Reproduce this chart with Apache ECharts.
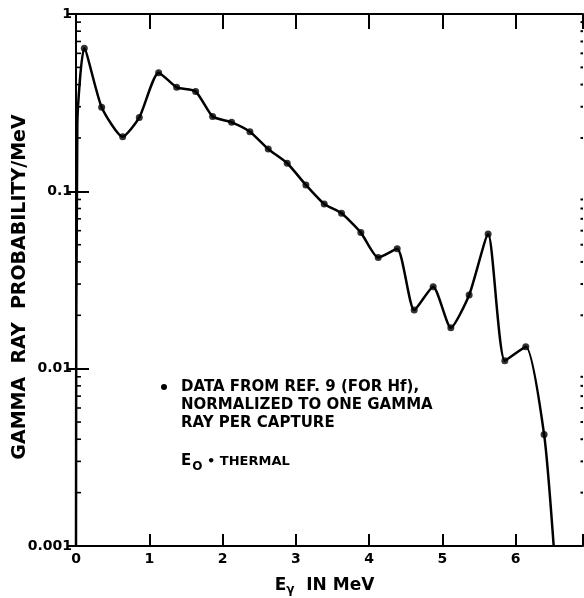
<!DOCTYPE html>
<html>
<head>
<meta charset="utf-8">
<script src="https://cdn.jsdelivr.net/npm/echarts@6/dist/echarts.min.js"></script>
<style>html,body{margin:0;padding:0;background:#fff}#c{width:584px;height:598px}</style>
</head>
<body>
<div id="c"></div>
<script>
// Marked data points (E in MeV, probability per MeV)
var energies = [0.113, 0.35, 0.637, 0.864, 1.128, 1.374, 1.633, 1.865, 2.124, 2.374, 2.624, 2.883,
  3.138, 3.388, 3.624, 3.888, 4.125, 4.384, 4.616, 4.875, 5.116, 5.366, 5.625, 5.853, 6.139, 6.389];
var probs = [0.641, 0.298, 0.203, 0.261, 0.467, 0.386, 0.366, 0.264, 0.245, 0.217, 0.173, 0.144,
  0.1086, 0.0848, 0.0752, 0.0585, 0.0423, 0.0475, 0.0214, 0.029, 0.017, 0.026, 0.0574, 0.0111, 0.0133, 0.00426];
// Unmarked ends of the drawn curve
var curveStartX = [0.0, 0.018];
var curveStartY = [0.001, 0.24];
var curveEndX = [6.52];
var curveEndY = [0.001];
var xTicks = [0, 1, 2, 3, 4, 5, 6];
var yTickLabels = {'1': '1', '0.1': '0.1', '0.01': '0.01', '0.001': '0.001'};
var decades = [0.001, 0.01, 0.1];
var minorMultipliers = [2, 3, 4, 5, 6, 7, 8, 9];

var XMAX = 6.92;
var curve = [];
curveStartX.forEach(function (x, i) { curve.push([x, curveStartY[i]]); });
energies.forEach(function (x, i) { curve.push([x, probs[i]]); });
curveEndX.forEach(function (x, i) { curve.push([x, curveEndY[i]]); });
var pts = energies.map(function (x, i) { return [x, probs[i]]; });
var minorTicks = [];
decades.forEach(function (d) {
  minorMultipliers.forEach(function (m) {
    var v = +(m * d).toPrecision(3);
    minorTicks.push([0, v]);
    minorTicks.push([XMAX, v]);
  });
});

var FONT = 'DejaVu Sans';
var chart = echarts.init(document.getElementById('c'), null, {renderer: 'canvas'});
chart.setOption({
  backgroundColor: '#fff',
  animation: false,
  grid: {left: 76, right: 1, top: 14, bottom: 52, containLabel: false, outerBoundsMode: 'none'},
  xAxis: [{
    type: 'value', min: 0, max: XMAX, interval: 1,
    name: '{e|E}{g|γ}{t|  IN MeV}', nameLocation: 'middle', nameGap: 30, nameMoveOverlap: false,
    nameTextStyle: {padding: [0, 10, 0, 0], rich: {
      e: {fontFamily: FONT, fontWeight: 'bold', fontSize: 17, color: '#000'},
      g: {fontFamily: FONT, fontWeight: 'bold', fontSize: 12, color: '#000', verticalAlign: 'bottom', padding: [8, 0, 0, 0]},
      t: {fontFamily: FONT, fontWeight: 'bold', fontSize: 17, color: '#000'}
    }},
    axisLine: {show: true, onZero: false, lineStyle: {color: '#000', width: 2}},
    axisTick: {show: true, inside: true, length: 12, lineStyle: {color: '#000', width: 2}},
    axisLabel: {color: '#000', fontFamily: FONT, fontWeight: 'bold', fontSize: 14, margin: 6,
      formatter: function (v) { return xTicks.indexOf(v) >= 0 ? String(v) : ''; }},
    splitLine: {show: false}
  }, {
    type: 'value', min: 0, max: XMAX, interval: 1, position: 'top',
    axisLine: {show: true, onZero: false, lineStyle: {color: '#000', width: 2}},
    axisTick: {show: true, inside: true, length: 15, lineStyle: {color: '#000', width: 2}},
    axisLabel: {show: false}, splitLine: {show: false}
  }],
  yAxis: [{
    type: 'log', logBase: 10, min: 0.001, max: 1,
    name: 'GAMMA  RAY  PROBABILITY/MeV', nameLocation: 'middle', nameGap: 46, nameRotate: 90,
    nameMoveOverlap: false,
    nameTextStyle: {fontFamily: FONT, fontWeight: 'bold', fontSize: 19, color: '#000', padding: [0, 14, 0, 0]},
    axisLine: {show: true, onZero: false, lineStyle: {color: '#000', width: 2}},
    axisTick: {show: true, inside: true, length: 13, lineStyle: {color: '#000', width: 2}},
    minorTick: {show: false},
    axisLabel: {color: '#000', fontFamily: FONT, fontWeight: 'bold', fontSize: 14, margin: 4,
      formatter: function (v) { var k = String(+v.toPrecision(3)); return yTickLabels[k] || ''; }},
    splitLine: {show: false}
  }, {
    type: 'log', logBase: 10, min: 0.001, max: 1, position: 'right',
    axisLine: {show: false},
    axisTick: {show: true, inside: true, length: 9, lineStyle: {color: '#000', width: 2}},
    minorTick: {show: false},
    axisLabel: {show: false}, splitLine: {show: false}
  }],
  series: [{
    type: 'custom', data: minorTicks, clip: false, silent: true, z: 2,
    renderItem: function (params, api) {
      var x = api.value(0), v = api.value(1);
      var p = api.coord([x, v]);
      var left = x === 0;
      return {type: 'line',
        shape: {x1: p[0], y1: p[1], x2: p[0] + (left ? 5 : -2.5), y2: p[1]},
        style: {stroke: '#000', lineWidth: left ? 1.6 : 2}};
    }
  }, {
    type: 'line', data: curve, smooth: 0.2, symbol: 'none',
    lineStyle: {color: '#000', width: 2.5}, z: 3
  }, {
    type: 'scatter', data: pts, symbol: 'circle', symbolSize: 7,
    itemStyle: {color: '#000'}, z: 4
  }],
  graphic: [
    {type: 'circle', shape: {cx: 164, cy: 387, r: 3}, style: {fill: '#000'}},
    {type: 'text', left: 181, top: 378, style: {text: 'DATA FROM REF. 9 (FOR Hf),\nNORMALIZED TO ONE GAMMA\nRAY PER CAPTURE',
      font: 'bold 15px "DejaVu Sans"', fill: '#000', lineHeight: 18}},
    {type: 'text', left: 181, top: 454, style: {
      text: '{e|E}{s|O}{t| • THERMAL}',
      rich: {
        e: {font: 'bold 15px "DejaVu Sans"', fill: '#000'},
        s: {font: 'bold 12px "DejaVu Sans"', fill: '#000', padding: [10, 0, 0, 1]},
        t: {font: 'bold 13px "DejaVu Sans"', fill: '#000'}
      }}}
  ]
});
</script>
</body>
</html>
